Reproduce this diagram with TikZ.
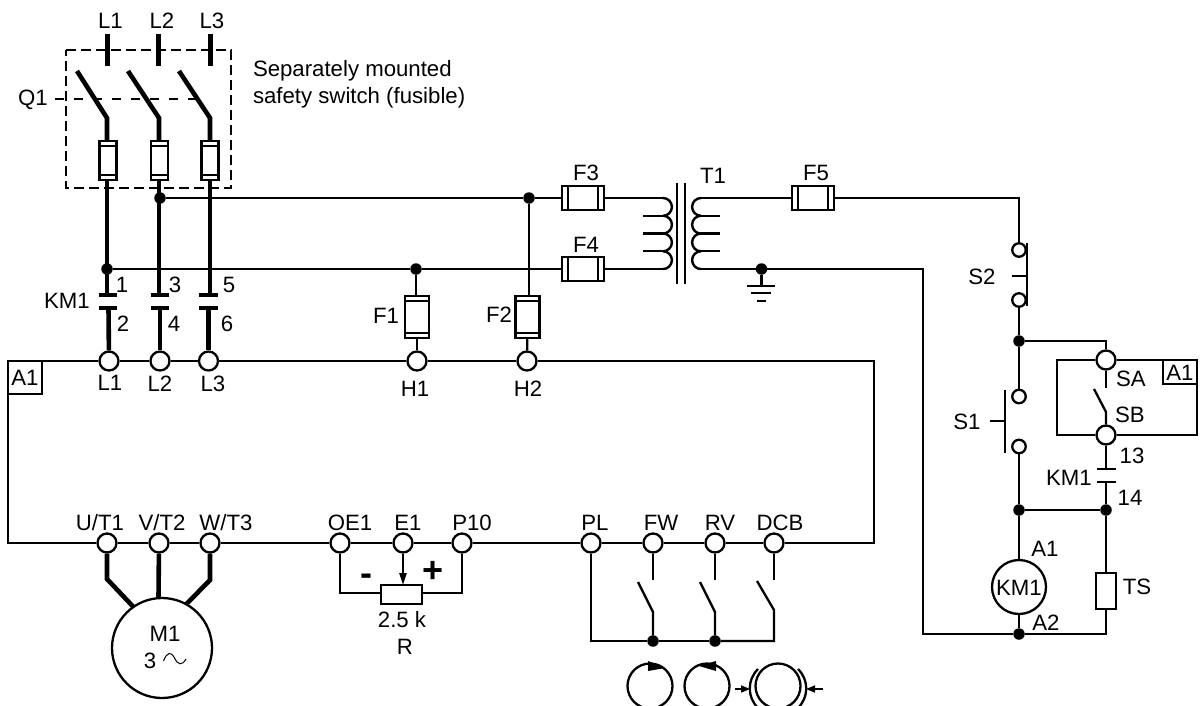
\documentclass[tikz,border=0pt]{standalone}
\usepackage{fontspec}
\setmainfont{Liberation Sans}
\usetikzlibrary{arrows.meta}
\tikzset{
 wire/.style={line width=2.3pt,line join=miter},
 thick wire/.style={line width=4.6pt,line join=miter},
 terminal/.style={circle,draw,fill=white,line width=2.3pt,minimum size=19pt,inner sep=0pt},
 smallterm/.style={circle,draw,fill=white,line width=2.3pt,minimum size=13.5pt,inner sep=0pt},
 junction/.style={circle,fill=black,minimum size=11.5pt,inner sep=0pt,outer sep=0pt},
 fusebox/.style={rectangle,draw,line width=2.3pt,inner sep=0pt},
 lbl/.style={inner sep=0pt,outer sep=0pt,font=\fontsize{22.2}{25}\selectfont,text height=16pt,text depth=0pt},
 tagbox/.style={rectangle,draw,line width=2pt,inner sep=0pt},
}
\newcommand{\vfuse}[5]{% name,x,y,w,h
 \node[fusebox,minimum width=#4pt,minimum height=#5pt] (#1) at (#2,#3) {};
 \draw[line width=1.8pt] ([yshift=-6.5pt]#1.north west) -- ([yshift=-6.5pt]#1.north east)
   ([yshift=6.5pt]#1.south west) -- ([yshift=6.5pt]#1.south east);}
\newcommand{\hfuse}[3]{% name,x,y
 \node[fusebox,minimum width=42pt,minimum height=24pt] (#1) at (#2,#3) {};
 \draw[line width=1.8pt] ([xshift=7pt]#1.north west) -- ([xshift=7pt]#1.south west)
   ([xshift=-7pt]#1.north east) -- ([xshift=-7pt]#1.south east);}
\begin{document}
\begin{tikzpicture}[x=1pt,y=-1pt]
\useasboundingbox (0,0) rectangle (1204,706);
\fill[white] (0,0) rectangle (1204,706);

% ---------- terminals ----------
\node[terminal] (tL1) at (109,361) {};
\node[terminal] (tL2) at (160,361) {};
\node[terminal] (tL3) at (208.5,361) {};
\node[terminal] (tH1) at (417,361) {};
\node[terminal] (tH2) at (527,361) {};
\node[terminal] (tU) at (107,543) {};
\node[terminal] (tV) at (159,543) {};
\node[terminal] (tW) at (210,543) {};
\node[terminal] (tOE) at (340,543) {};
\node[terminal] (tE) at (403,543) {};
\node[terminal] (tP) at (462,543) {};
\node[terminal] (tPL) at (591,543) {};
\node[terminal] (tFW) at (653,543) {};
\node[terminal] (tRV) at (715,543) {};
\node[terminal] (tDCB) at (774,543) {};
\node[terminal] (tSA) at (1106,360) {};
\node[terminal] (tSB) at (1106,435) {};

% ---------- junctions ----------
\node[junction] (jA) at (160,198) {};
\node[junction] (jB) at (529,198) {};
\node[junction] (jC) at (107,269) {};
\node[junction] (jD) at (416,269) {};
\node[junction] (jG) at (761.5,269) {};
\node[junction] (jS) at (1019,341) {};
\node[junction] (jK) at (1019,510) {};
\node[junction] (jL) at (1106,510) {};
\node[junction] (jM) at (1019,634) {};
\node[junction] (jF) at (653,641) {};
\node[junction] (jR) at (715,641) {};

% ---------- A1 frame ----------
\coordinate (c1) at (8,361); \coordinate (c2) at (874,361);
\coordinate (c3) at (874,543); \coordinate (c4) at (8,543);
\draw[wire] (tL1)--(tL2); \draw[wire] (tL2)--(tL3); \draw[wire] (tL3)--(tH1);
\draw[wire] (tH1)--(tH2); \draw[wire] (tH2)--(c2)--(c3)--(tDCB);
\draw[wire] (tDCB)--(tRV); \draw[wire] (tRV)--(tFW); \draw[wire] (tFW)--(tPL);
\draw[wire] (tPL)--(tP); \draw[wire] (tP)--(tE); \draw[wire] (tE)--(tOE);
\draw[wire] (tOE)--(tW); \draw[wire] (tW)--(tV); \draw[wire] (tV)--(tU);
\draw[wire] (tU)--(c4)--(c1)--(tL1);
\node[tagbox,fill=white,minimum width=34pt,minimum height=33pt] (tagA) at (25,377.5) {};
\node[lbl] (ltagA) at (25,377.5) {A1};

% ---------- incoming lines and safety switch ----------
\draw[line width=5pt] (107,34)--(107,66);
\draw[line width=5pt] (158,34)--(158,66);
\draw[line width=5pt] (210,34)--(210,66);
\draw[line width=2.6pt,dash pattern=on 10pt off 5pt] (66,50)--(231,50)--(231,188)--(66,188)--cycle;
\draw[line width=1.6pt,dash pattern=on 8.5pt off 10.5pt] (55,99)--(195,99);
\vfuse{fa}{108}{160.5}{17}{39}
\vfuse{fb}{159.5}{160.5}{17}{39}
\vfuse{fc}{210}{160.5}{17}{39}
\coordinate (ba) at (107,118); \coordinate (bb) at (159,118); \coordinate (bc) at (210,118);
\draw[thick wire] (77,71)--(ba)--(ba|-fa.north);
\draw[thick wire] (128,71)--(bb)--(bb|-fb.north);
\draw[thick wire] (179,71)--(bc)--(bc|-fc.north);

% ---------- KM1 main contacts ----------
\coordinate (ka) at (107,295); \coordinate (kb) at (159,295); \coordinate (kc) at (210,295);
\coordinate (la) at (108.5,308); \coordinate (lb) at (160,308); \coordinate (lc) at (208.5,308);
\draw[thick wire] (fa.south -| ka)--(ka);
\draw[thick wire] (fb.south -| kb)--(kb);
\draw[thick wire] (fc.south -| kc)--(kc);
\draw[thick wire] (la)--(tL1);
\draw[thick wire] (lb)--(tL2);
\draw[thick wire] (lc)--(tL3);
\foreach \xa/\xb in {99/117,150.5/169,199/218}{
 \draw[line width=4.2pt] (\xa,295)--(\xb,295) (\xa,308)--(\xb,308);}

% ---------- control supply ----------
\hfuse{F3}{583}{198}
\hfuse{F4}{583}{269}
\hfuse{F5}{813}{198}
\vfuse{F1}{417}{317}{24}{42}
\vfuse{F2}{527.5}{317}{24}{42}
\draw[wire] (jA)--(jB); \draw[wire] (jB)--(F3);
\draw[wire] (jC)--(jD); \draw[wire] (jD)--(F4);
\draw[wire] (jD)--(F1.north -| jD);
\draw[wire] (F1)--(tH1);
\draw[wire] (jB)--(jB|-F2.north);
\draw[wire] (F2)--(tH2);

% transformer
\coordinate (pa) at (663,198); \coordinate (pb) at (663,269);
\coordinate (sa) at (701,198); \coordinate (sb) at (701,269);
\draw[wire] (F3)--(pa);
\draw[wire] (F4)--(pb);
\draw[line width=2.4pt] (pa) arc (-90:90:8.9) (663,215.75) arc (-90:90:8.9)
  (663,233.5) arc (-90:90:8.9) (663,251.25) arc (-90:90:8.9);
\draw[wire] (643,215.8)--(663,215.8) (643,233.4)--(663,233.4) (643,251.2)--(663,251.2);
\draw[wire] (677,183)--(677,284) (685,183)--(685,284);
\draw[line width=2.4pt] (sa) arc (-90:-270:8.9) (701,215.75) arc (-90:-270:8.9)
  (701,233.5) arc (-90:-270:8.9) (701,251.25) arc (-90:-270:8.9);
\draw[wire] (701,215.8)--(720,215.8) (701,233.4)--(720,233.4) (701,251.2)--(720,251.2);
\draw[wire] (sa)--(F5);
\coordinate (cq) at (923,269); \coordinate (cq2) at (923,634);
\draw[wire] (sb)--(jG); \draw[wire] (jG)--(cq)--(cq2)--(jM);
\coordinate (gnd) at (761.5,285.7);
\draw[wire] (jG)--(gnd);
\draw[wire] (747,285.7)--(775,285.7) (751,292.7)--(771,292.7) (757,301)--(766,301);

% ---------- control circuit ----------
\node[smallterm] (s2a) at (1019,250) {};
\node[smallterm] (s2b) at (1019,300) {};
\node[smallterm] (s1a) at (1019,396.5) {};
\node[smallterm] (s1b) at (1019,446.5) {};
\coordinate (cr) at (1019,198);
\draw[wire] (F5)--(cr)--(s2a);
\draw[wire] (s2b)--(jS); \draw[wire] (jS)--(s1a);
\draw[wire] (s1b)--(jK);
\draw[wire] (1027,243)--(1027,306) (1012,275.7)--(1027,275.7);
\draw[wire] (1005,390)--(1005,453) (990,421)--(1005,421);
\coordinate (ctop) at (1106,341);
\draw[wire] (jS)--(ctop)--(tSA);
\coordinate (bx1) at (1056.7,360); \coordinate (bx2) at (1056.7,435);
\coordinate (bx3) at (1196.7,435); \coordinate (bx4) at (1196.7,360);
\draw[wire] (tSA)--(bx1)--(bx2)--(tSB);
\draw[wire] (tSB)--(bx3)--(bx4)--(tSA);
\node[tagbox,fill=white,minimum width=33.7pt,minimum height=24pt,line width=2pt] (tagB) at (1179.85,372) {};
\node[lbl] (ltagB) at (1179.85,372.5) {A1};
\coordinate (sw1) at (1106,388); \coordinate (sw2) at (1106,412);
\draw[wire] (tSA)--(sw1);
\draw[wire] (1094,389)--(sw2)--(tSB);
\coordinate (k13) at (1106,469); \coordinate (k14) at (1106,482);
\draw[wire] (tSB)--(k13);
\draw[wire] (k14)--(jL);
\draw[line width=2.4pt] (1097,469)--(1116,469) (1097,482)--(1116,482);
\draw[wire] (jK)--(jL);
\node[circle,draw,line width=2.3pt,minimum size=54pt,inner sep=0pt] (KM) at (1019,587) {};
\node[lbl] (lKM) at (1019,587.5) {KM1};
\draw[wire] (jK)--(KM); \draw[wire] (KM)--(jM);
\node[rectangle,draw,line width=2.3pt,minimum width=20pt,minimum height=36pt,inner sep=0pt] (TS) at (1105.7,591) {};
\draw[wire] (jL)--(TS.north -| jL);
\coordinate (cs) at (1106,634);
\draw[wire] (TS.south -| jL)--(cs)--(jM);

% ---------- motor ----------
\node[circle,draw,line width=2.3pt,minimum size=100pt,inner sep=0pt] (M1) at (162,648) {};
\coordinate (mu) at (107,579); \coordinate (mw) at (210,580);
\draw[thick wire] (tU)--(mu)--(133.5,607);
\draw[thick wire] (tV)--(158.5,598);
\draw[thick wire] (tW)--(mw)--(186,604.5);
\draw[line width=1pt] (163.5,661) .. controls (167,652) and (171,651) .. (174.5,658)
   .. controls (178,665) and (182,666) .. (186,659);

% ---------- potentiometer ----------
\node[rectangle,draw,line width=2.3pt,minimum width=41pt,minimum height=19pt,inner sep=0pt] (R) at (401.5,594.5) {};
\coordinate (poe) at (340,593); \coordinate (pp) at (462,593);
\draw[wire] (tOE)--(poe)--(R.west |- poe);
\draw[wire] (tP)--(pp)--(R.east |- pp);
\coordinate (pw) at (403,585);
\draw[wire,-{Triangle[length=12pt,width=7pt]}] (tE)--(pw);

% ---------- switches ----------
\coordinate (sfw) at (653,580); \coordinate (srv) at (715,580); \coordinate (sdc) at (774,580);
\coordinate (bfw) at (653,612); \coordinate (brv) at (715,612); \coordinate (bdc) at (774,610);
\coordinate (ll) at (591,641); \coordinate (lr) at (774,641);
\draw[wire] (tFW)--(sfw); \draw[wire] (tRV)--(srv); \draw[wire] (tDCB)--(sdc);
\draw[wire] (638,582)--(bfw)--(jF);
\draw[wire] (700,582)--(brv)--(jR);
\draw[wire] (757,581)--(bdc)--(lr)--(jR);
\draw[wire] (jR)--(jF);
\draw[wire] (jF)--(ll)--(tPL);

% ---------- rotation symbols ----------
\begin{scope}
\clip (600,640) rectangle (840,705.5);
\draw[line width=2.3pt] (650,686) circle (22.5);
\draw[line width=2.3pt] (707,686) circle (22.5);
\draw[line width=2.3pt] (778,686) circle (22.5);
\draw[line width=2.3pt] (758,669) .. controls (747,680) and (747,697) .. (758,708);
\draw[line width=2.3pt] (798,669) .. controls (809,680) and (809,697) .. (798,708);
\fill (665,668) -- (648,661) -- (648,671) -- cycle;
\fill (699,666) -- (716,661) -- (716,671) -- cycle;
\draw[line width=1.6pt,-{Triangle[length=9pt,width=7pt]}] (735,689)--(750,689);
\draw[line width=1.6pt,-{Triangle[length=9pt,width=7pt]}] (823,689)--(806,689);
\end{scope}

% ---------- labels ----------
\node[lbl] (n1) at (110.5,21) {L1};
\node[lbl] (n2) at (162,21) {L2};
\node[lbl] (n3) at (212,21) {L3};
\node[lbl] (n4) at (33,98) {Q1};
\node[lbl,anchor=west] (n5) at (253,69) {Separately mounted};
\node[lbl,anchor=west] (n6) at (253,96) {safety switch (fusible)};
\node[lbl] (n7) at (67,300) {KM1};
\node[lbl] (n8) at (122,284) {1};
\node[lbl] (n9) at (175,284) {3};
\node[lbl] (n10) at (229,284) {5};
\node[lbl] (n11) at (123,323) {2};
\node[lbl] (n12) at (174,323) {4};
\node[lbl] (n13) at (227,323) {6};
\node[lbl] (n14) at (110,382) {L1};
\node[lbl] (n15) at (160,383) {L2};
\node[lbl] (n16) at (213,383) {L3};
\node[lbl] (n17) at (415,388) {H1};
\node[lbl] (n18) at (528,388) {H2};
\node[lbl] (n19) at (386,315) {F1};
\node[lbl] (n20) at (499,314) {F2};
\node[lbl] (n21) at (586,172) {F3};
\node[lbl] (n22) at (586,244) {F4};
\node[lbl] (n23) at (713,175) {T1};
\node[lbl] (n24) at (816,172) {F5};
\node[lbl] (n25) at (982,276) {S2};
\node[lbl] (n26) at (967,421) {S1};
\node[lbl,anchor=west] (n27) at (1116,378) {SA};
\node[lbl,anchor=west] (n28) at (1115,414) {SB};
\node[lbl] (n29) at (1132,455) {13};
\node[lbl] (n30) at (1130,497) {14};
\node[lbl] (n31) at (1069,477) {KM1};
\node[lbl] (n32) at (1045,548) {A1};
\node[lbl] (n33) at (1046,622) {A2};
\node[lbl] (n34) at (1137,586) {TS};
\node[lbl] (n35) at (100,522) {U/T1};
\node[lbl] (n36) at (162,522) {V/T2};
\node[lbl] (n37) at (226,522) {W/T3};
\node[lbl] (n38) at (350,522) {OE1};
\node[lbl] (n39) at (408,522) {E1};
\node[lbl] (n40) at (472,522) {P10};
\node[lbl] (n41) at (595,522) {PL};
\node[lbl] (n42) at (661,522) {FW};
\node[lbl] (n43) at (720,522) {RV};
\node[lbl] (n44) at (780,522) {DCB};
\node[lbl] (n45) at (165,633) {M1};
\node[lbl] (n46) at (150,660) {3};
\node[lbl] (n47) at (402,619) {2.5 k};
\node[lbl] (n48) at (405,646) {R};
\node[inner sep=0pt,anchor=base,font=\fontsize{36}{36}\selectfont\bfseries] (n49) at (366,585) {-};
\node[inner sep=0pt,anchor=base,font=\fontsize{36}{36}\selectfont\bfseries] (n50) at (433,582) {+};
\end{tikzpicture}
\end{document}
